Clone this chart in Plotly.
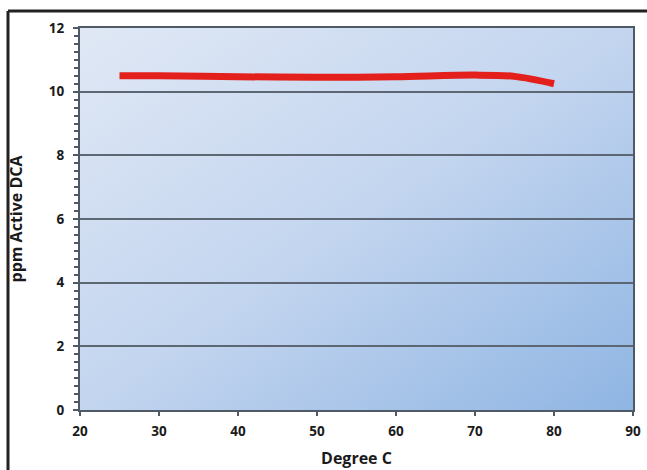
import base64
import plotly.graph_objects as go

temps = [25, 30, 40, 50, 60, 70, 75, 80]
ppm = [10.5, 10.5, 10.47, 10.45, 10.47, 10.52, 10.48, 10.25]

x_ticks = [20, 30, 40, 50, 60, 70, 80, 90]
y_ticks = [0, 2, 4, 6, 8, 10, 12]

W, H = 647, 470
L, R, T, B = 80, 14, 28, 60

svg = (
    '<svg xmlns="http://www.w3.org/2000/svg" width="100" height="100" preserveAspectRatio="none">'
    '<defs><linearGradient id="g" x1="0" y1="0" x2="1" y2="1">'
    '<stop offset="0" stop-color="#e0e8f5"/>'
    '<stop offset="0.5" stop-color="#c3d5ef"/>'
    '<stop offset="1" stop-color="#8fb5e3"/>'
    '</linearGradient></defs>'
    '<rect width="100" height="100" fill="url(#g)"/></svg>'
)
src = "data:image/svg+xml;base64," + base64.b64encode(svg.encode()).decode()

fig = go.Figure()
fig.add_trace(go.Scatter(
    x=temps, y=ppm, mode="lines",
    line=dict(color="#e3201c", width=7, shape="spline", smoothing=0.9),
    showlegend=False, hoverinfo="skip",
))

pw = W - L - R
ph = H - T - B
bx = (8 - L) / pw
ty = (H - B - 11) / ph

fig.update_layout(
    width=W, height=H,
    margin=dict(l=L, r=R, t=T, b=B),
    paper_bgcolor="white",
    plot_bgcolor="rgba(0,0,0,0)",
    font=dict(family="Open Sans", color="#1a1a1a"),
    images=[dict(source=src, xref="paper", yref="paper", x=0, y=1,
                 sizex=1, sizey=1, sizing="stretch", layer="below",
                 xanchor="left", yanchor="top")],
    shapes=[
        dict(type="line", xref="paper", yref="paper", x0=bx, x1=1.2, y0=ty, y1=ty,
             line=dict(color="#222222", width=3)),
        dict(type="line", xref="paper", yref="paper", x0=bx, x1=bx, y0=ty, y1=-0.3,
             line=dict(color="#222222", width=3)),
    ],
    xaxis=dict(
        range=[20, 90], tickvals=x_ticks, ticktext=[str(v) for v in x_ticks],
        showgrid=False, zeroline=False, automargin=False,
        showline=True, linecolor="#4f5a66", linewidth=2, mirror=True,
        ticks="outside", ticklen=4, tickcolor="#4f5a66", tickwidth=2,
        ticklabelstandoff=4,
        tickfont=dict(size=13.5, family="Open Sans", weight="bold"),
        title=dict(text="Degree C", font=dict(size=16, family="Open Sans", weight="bold"), standoff=14),
    ),
    yaxis=dict(
        range=[0, 12], tickvals=y_ticks, ticktext=[str(v) for v in y_ticks],
        showgrid=True, gridcolor="#5c6773", gridwidth=1.5, zeroline=False, automargin=False,
        showline=True, linecolor="#4f5a66", linewidth=2, mirror=True,
        ticks="outside", ticklen=5, tickcolor="#4f5a66", tickwidth=2,
        ticklabelstandoff=6,
        minor=dict(dtick=0.25, ticks="outside", ticklen=4, tickcolor="#4f5a66", tickwidth=2, showgrid=False),
        tickfont=dict(size=13.5, family="Open Sans", weight="bold"),
        title=dict(text="ppm Active DCA", font=dict(size=16, family="Open Sans", weight="bold"), standoff=22),
    ),
)

fig.write_html(
    "out.html",
    config={"displayModeBar": False},
    post_script="document.body.style.margin='0';document.body.style.overflow='hidden';",
)
